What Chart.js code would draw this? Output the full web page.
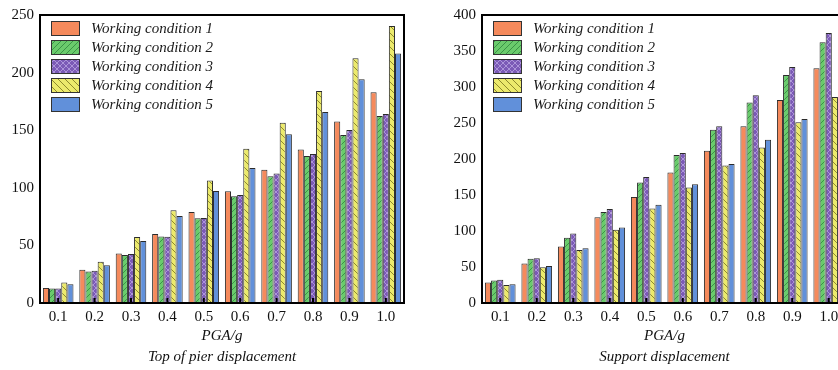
<!DOCTYPE html>
<html>
<head>
<meta charset="utf-8">
<script src="https://cdn.jsdelivr.net/npm/chart.js@4.4.1/dist/chart.umd.min.js"></script>
<style>
  html, body { margin: 0; padding: 0; background: #fff; width: 838px; height: 370px; overflow: hidden; }
  .panel { position: absolute; top: 0; width: 420px; height: 370px; }
  #left { left: 0; }
  #right { left: 440px; }
</style>
</head>
<body>
<div class="panel" id="left"><canvas id="pierChart" width="420" height="370"></canvas></div>
<div class="panel" id="right"><canvas id="supportChart" width="420" height="370"></canvas></div>
<script>
const categories = ["0.1", "0.2", "0.3", "0.4", "0.5", "0.6", "0.7", "0.8", "0.9", "1.0"];
const seriesNames = ["Working condition 1", "Working condition 2", "Working condition 3", "Working condition 4", "Working condition 5"];

// Top of pier displacement
const pierWC1 = [13.1, 28.8, 43.0, 59.8, 78.9, 97.0, 115.7, 133.3, 157.5, 182.9];
const pierWC2 = [12.5, 27.4, 41.6, 57.8, 73.5, 92.6, 110.0, 127.6, 145.9, 162.4];
const pierWC3 = [12.5, 27.9, 42.5, 57.5, 73.8, 93.8, 112.5, 129.3, 150.1, 164.1];
const pierWC4 = [17.7, 35.9, 57.3, 80.6, 106.3, 133.9, 156.4, 184.0, 212.5, 240.5];
const pierWC5 = [16.2, 32.8, 53.8, 75.5, 97.2, 117.1, 146.4, 165.8, 194.3, 216.5];

// Support displacement
const supWC1 = [28.6, 55.0, 78.6, 119.0, 147.3, 181.4, 211.4, 245.5, 281.8, 326.0];
const supWC2 = [31.4, 61.4, 90.5, 126.4, 167.3, 205.5, 240.5, 278.6, 316.8, 362.3];
const supWC3 = [32.3, 62.3, 96.4, 130.5, 175.0, 208.2, 245.5, 288.6, 327.7, 375.0];
const supWC4 = [25.0, 49.5, 73.6, 101.8, 131.4, 160.5, 191.0, 216.0, 251.0, 286.0];
const supWC5 = [25.9, 51.4, 75.9, 105.0, 136.4, 165.0, 193.2, 226.8, 255.5, 293.2];

const pierTicks = [0, 50, 100, 150, 200, 250];
const supportTicks = [0, 50, 100, 150, 200, 250, 300, 350, 400];

const serif = "'Liberation Serif', 'Times New Roman', serif";

function makePattern(base, lineColor, kind, s) {
  const c = document.createElement("canvas");
  c.width = s; c.height = s;
  const g = c.getContext("2d");
  g.fillStyle = base;
  g.fillRect(0, 0, s, s);
  g.strokeStyle = lineColor;
  g.lineWidth = 1;
  const fwd = () => {
    g.beginPath();
    g.moveTo(-1, s + 1); g.lineTo(s + 1, -1);
    g.moveTo(-1, 1); g.lineTo(1, -1);
    g.moveTo(s - 1, s + 1); g.lineTo(s + 1, s - 1);
    g.stroke();
  };
  const back = () => {
    g.beginPath();
    g.moveTo(-1, -1); g.lineTo(s + 1, s + 1);
    g.moveTo(s - 1, -1); g.lineTo(s + 1, 1);
    g.moveTo(-1, s - 1); g.lineTo(1, s + 1);
    g.stroke();
  };
  if (kind === "fwd") fwd();
  if (kind === "back") back();
  if (kind === "cross") { fwd(); back(); }
  return g.createPattern(c, "repeat");
}

const fills = [
  "#F58A5C",
  makePattern("#6ACB6C", "#3A9446", "fwd", 6),
  makePattern("#7B5AB6", "#AC94D9", "cross", 6),
  makePattern("#ECEA6C", "#8E8A2C", "back", 7),
  "#6190DA"
];

const frameAndTicks = {
  id: "frameAndTicks",
  afterDatasetsDraw(chart) {
    const { ctx, chartArea: a, scales } = chart;
    ctx.save();
    ctx.strokeStyle = "#000";
    ctx.lineWidth = 2;
    ctx.strokeRect(a.left, a.top, a.right - a.left, a.bottom - a.top);
    ctx.fillStyle = "#000";
    scales.x.ticks.forEach((t, i) => {
      const x = scales.x.getPixelForTick(i);
      ctx.fillRect(x - 1, a.bottom - 5, 2, 5);
    });
    ctx.restore();
  }
};

const boxLegend = {
  id: "boxLegend",
  afterDraw(chart) {
    const { ctx, chartArea: a } = chart;
    ctx.save();
    ctx.font = "italic 15px " + serif;
    ctx.textBaseline = "middle";
    chart.data.datasets.forEach((ds, i) => {
      const x = a.left + 11;
      const y = a.top + 6 + i * 19;
      ctx.fillStyle = ds.backgroundColor;
      ctx.fillRect(x, y, 28, 14);
      ctx.strokeStyle = "#333";
      ctx.lineWidth = 1;
      ctx.strokeRect(x + 0.5, y + 0.5, 28, 14);
      ctx.fillStyle = "#1a1a1a";
      ctx.fillText(ds.label, x + 40, y + 8);
    });
    ctx.restore();
  }
};

function buildChart(id, series, yTicks, title, yWidth, rightPad) {
  const datasets = series.map((values, i) => ({
    label: seriesNames[i],
    data: values,
    backgroundColor: fills[i],
    borderColor: "#2b2b2b",
    borderWidth: 1,
    borderSkipped: "bottom",
    categoryPercentage: 0.84,
    barPercentage: 1.0
  }));
  return new Chart(document.getElementById(id), {
    type: "bar",
    data: { labels: categories, datasets },
    options: {
      responsive: false,
      animation: false,
      layout: { padding: { top: 9, right: rightPad, bottom: 0, left: 0 } },
      plugins: { legend: { display: false }, tooltip: { enabled: false } },
      scales: {
        x: {
          grid: { display: false, drawTicks: false },
          border: { display: true, color: "#000", width: 2 },
          ticks: { color: "#111", font: { family: serif, size: 15 }, padding: 5 },
          title: {
            display: true,
            text: ["PGA/g", title],
            color: "#111",
            font: { family: serif, size: 15, style: "italic", lineHeight: 1.4 },
            padding: { top: 0, bottom: 2 }
          },
          afterFit(scale) { scale.height = 67; }
        },
        y: {
          min: yTicks[0],
          max: yTicks[yTicks.length - 1],
          afterBuildTicks(scale) { scale.ticks = yTicks.map(v => ({ value: v })); },
          grid: { display: false, drawTicks: false },
          border: { display: true, color: "#000", width: 2 },
          ticks: { color: "#111", font: { family: serif, size: 15 }, padding: 6 },
          afterFit(scale) { scale.width = yWidth; }
        }
      }
    },
    plugins: [frameAndTicks, boxLegend]
  });
}

buildChart("pierChart", [pierWC1, pierWC2, pierWC3, pierWC4, pierWC5], pierTicks,
  "Top of pier displacement", 40, 16);
buildChart("supportChart", [supWC1, supWC2, supWC3, supWC4, supWC5], supportTicks,
  "Support displacement", 42, 13);
</script>
</body>
</html>
